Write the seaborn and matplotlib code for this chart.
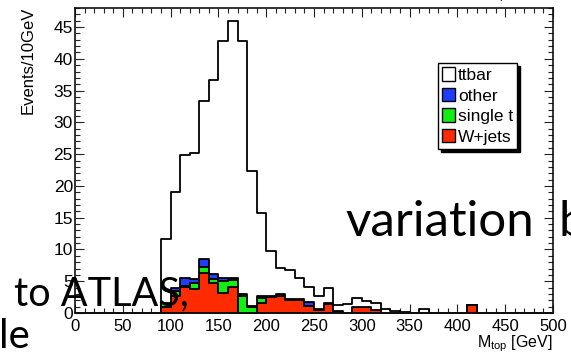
import numpy as np
import pandas as pd
import matplotlib
matplotlib.use("Agg")
import matplotlib.pyplot as plt
from matplotlib.patches import Patch
from matplotlib.ticker import MultipleLocator
import seaborn as sns

# ---- data: events per 10 GeV bin, lower bin edges 90 ... 410 GeV ----
bin_lows = list(range(90, 420, 10))
ttbar = [10.0, 15.1, 19.4, 19.9, 24.95, 30.6, 37.3, 40.45, 39.8, 21.35,
         13.1, 7.05, 4.1, 4.6, 3.3, 2.4, 1.95, 2.3, 0.95, 1.4,
         1.3, 0.95, 1.15, 0.6, 0.25, 0.2, 0.05, 0.7, 0, 0,
         0, 0, 0]
other = [0, 0.4, 1.3, 0.5, 1.15, 0.8, 0.4, 0.35, 0.4, 0.15,
         0.3, 0.25, 0.3, 0.2, 0.2, 0.6, 0.25, 0.15, 0, 0,
         0, 0, 0, 0, 0, 0, 0, 0, 0, 0,
         0, 0, 0]
single_t = [0.6, 0.9, 0.1, 1.0, 1.05, 0.6, 1.9, 1.15, 2.6, 0.9,
            0.8, 0, 0, 0, 0, 0, 0, 0, 0, 0,
            0, 0, 0, 0, 0, 0, 0, 0, 0, 0,
            0, 0, 0]
wjets = [1.0, 2.6, 4.1, 3.8, 6.25, 4.7, 3.2, 4.05, 0, 0,
         1.5, 2.5, 2.7, 2.0, 2.0, 1.1, 0.4, 1.45, 0.35, 0,
         1.0, 1.0, 0.4, 0, 0, 0, 0, 0, 0, 0,
         0, 0, 1.25]

samples = ["ttbar", "other", "single t", "W+jets"]
colors = ["#ffffff", "#1f3dff", "#11ee11", "#ff2b00"]
x_ticks = list(range(0, 550, 50))
y_ticks = list(range(0, 50, 5))

rows = []
for name, vals in zip(samples, [ttbar, other, single_t, wjets]):
    for lo, v in zip(bin_lows, vals):
        rows.append({"mass": lo + 5, "events": v, "sample": name})
df = pd.DataFrame(rows)

sns.set_theme(style="ticks")
plt.rcParams["font.family"] = ["Liberation Sans", "DejaVu Sans"]
plt.rcParams["mathtext.fontset"] = "custom"
plt.rcParams["mathtext.rm"] = "Liberation Sans"
plt.rcParams["mathtext.it"] = "Liberation Sans"
plt.rcParams["text.color"] = "black"
plt.rcParams["xtick.color"] = "black"
plt.rcParams["ytick.color"] = "black"

W, H = 571, 354
fig = plt.figure(figsize=(W / 100, H / 100), dpi=100)
ax = fig.add_axes([75 / W, 1 - 313 / H, 478 / W, 305 / H])

sns.histplot(data=df, x="mass", weights="events", hue="sample",
             hue_order=samples, palette=dict(zip(samples, colors)),
             multiple="stack", element="step", binwidth=10, binrange=(0, 500),
             edgecolor="black", linewidth=1.3, alpha=1, legend=False, ax=ax)

ax.set_xlim(0, 500)
ax.set_ylim(0, 48)
ax.set_xticks(x_ticks)
ax.set_yticks(y_ticks)
ax.xaxis.set_minor_locator(MultipleLocator(10))
ax.yaxis.set_minor_locator(MultipleLocator(1))
ax.tick_params(which="both", direction="in", top=True, right=True,
               color="#222222", width=0.8, labelcolor="black")
ax.tick_params(which="major", length=6.5)
ax.tick_params(which="minor", length=3.3)
ax.tick_params(axis="x", labelsize=12, pad=4)
ax.tick_params(axis="y", labelsize=12.5, pad=1.5)
ax.set_xlabel("")
ax.set_ylabel("")
for s in ax.spines.values():
    s.set_linewidth(1.2)
    s.set_color("#111111")

handles = [Patch(facecolor=c, edgecolor="black", linewidth=1.0) for c in colors]
leg = ax.legend(handles, samples, loc="upper left",
                bbox_to_anchor=((438 - 75) / 478, (313 - 63) / 305),
                borderaxespad=0, fontsize=12.5, frameon=True, fancybox=False,
                framealpha=1, edgecolor="black", handlelength=0.75,
                handleheight=0.8, handletextpad=0.15, labelspacing=0.28,
                borderpad=0.25,
                shadow={"ox": 2.2, "oy": -2.2, "color": "black", "alpha": 1})
leg.get_frame().set_linewidth(1.0)
for t in leg.get_texts():
    t.set_color("black")

fig.text(28 / W, 1 - 7 / H, "Events/10GeV", rotation=90, ha="center",
         va="top", fontsize=12)
fig.text(553 / W, 1 - 347.5 / H, r"M$_{\rm top}$ [GeV]", ha="right",
         va="baseline", fontsize=11.5)
fig.text(553 / W, 1 + 2.5 / H, r"M$_{\rm top}$ [GeV]", ha="right",
         va="baseline", fontsize=11.5)

# overlaid slide text
fig.text(345 / W, 1 - 236.5 / H, "variation", fontsize=35.5,
         family=["Lato", "DejaVu Sans"], va="baseline", ha="left")
fig.text(559 / W, 1 - 236.5 / H, "b", fontsize=35.5,
         family=["Lato", "DejaVu Sans"], va="baseline", ha="left")
fig.text(14 / W, 1 - 305 / H, "to ATLAS,", fontsize=28.5,
         family=["Lato", "DejaVu Sans"], va="baseline", ha="left")
fig.text(-1 / W, 1 - 348 / H, "le", fontsize=29,
         family=["Lato", "DejaVu Sans"], va="baseline", ha="left")

fig.savefig("out.png", dpi=100)
